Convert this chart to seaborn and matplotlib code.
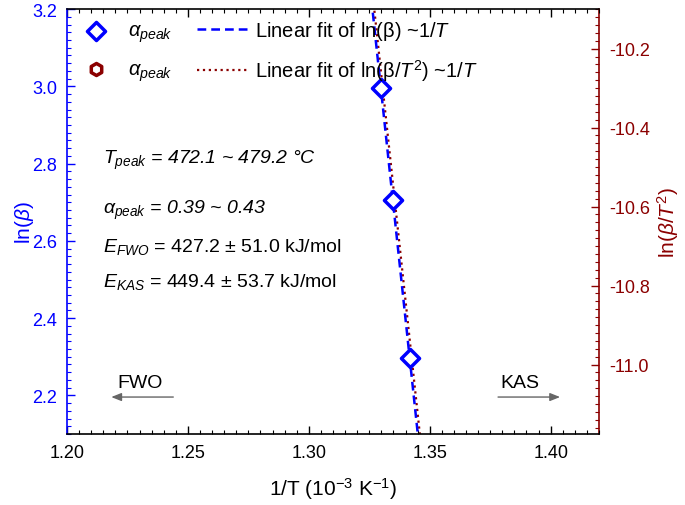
import numpy as np
import pandas as pd
import seaborn as sns
import matplotlib.pyplot as plt

# data
inv_T = [1.3298, 1.3347, 1.3417]          # 1/T (10^-3 K^-1)
ln_beta = [2.996, 2.705, 2.298]           # FWO, left axis
ln_beta_T2 = [-10.300, -10.587, -10.980]  # KAS, right axis
x_ticks = [1.20, 1.25, 1.30, 1.35, 1.40]
left_ticks = [2.2, 2.4, 2.6, 2.8, 3.0, 3.2]
right_ticks = [-11.0, -10.8, -10.6, -10.4, -10.2]

BLUE = '#0000FF'
RED = '#8B0000'

sns.set_theme(style='ticks')
plt.rcParams['font.family'] = ['Liberation Sans', 'DejaVu Sans']
plt.rcParams['mathtext.fontset'] = 'custom'
plt.rcParams['mathtext.rm'] = 'Liberation Sans'
plt.rcParams['mathtext.it'] = 'Liberation Sans:italic'
plt.rcParams['mathtext.bf'] = 'Liberation Sans:bold'
plt.rcParams['text.color'] = 'black'
plt.rcParams['axes.labelcolor'] = 'black'
plt.rcParams['xtick.color'] = 'black'
plt.rcParams['ytick.color'] = 'black'

df = pd.DataFrame({'x': inv_T, 'fwo': ln_beta, 'kas': ln_beta_T2})

# linear fits
xf = np.linspace(1.30, 1.38, 50)
p1 = np.polyfit(df['x'], df['fwo'], 1)
p2 = np.polyfit(df['x'], df['kas'], 1)
fits = pd.DataFrame({'x': xf, 'fwo': np.polyval(p1, xf), 'kas': np.polyval(p2, xf)})

fig = plt.figure(figsize=(6.85, 5.06), dpi=100)
ax = fig.add_axes([0.0978, 0.1403, 0.7767, 0.8397])
ax2 = ax.twinx()

# KAS (right axis) below
h_hex = ax2.scatter(df['x'], df['kas'], marker='h', s=45, facecolor='white',
                    edgecolor=RED, linewidth=2.5, zorder=2, label=r'$\alpha_{peak}$')
l_kas, = ax2.plot(fits['x'] + 0.0008, fits['kas'], color=RED, linestyle=':', linewidth=1.6,
                  zorder=1, label=r'Linear fit of ln(β/$T^2$) ~$\mathit{1/T}$')

# FWO (left axis) on top
ax.set_zorder(ax2.get_zorder() + 1)
ax.patch.set_visible(False)
sns.lineplot(data=fits, x='x', y='fwo', ax=ax, color=BLUE, linewidth=1.8,
             linestyle=(0, (3.5, 2)), zorder=2)
l_fwo = ax.lines[-1]
l_fwo.set_label(r'Linear fit of ln(β) ~$\mathit{1/T}$')
sns.scatterplot(data=df, x='x', y='fwo', ax=ax, marker='D', s=85, facecolor='white',
                edgecolor=BLUE, linewidth=2.5, zorder=3)
h_dia = ax.collections[-1]
h_dia.set_label(r'$\alpha_{peak}$')

ax.set_xlim(1.20, 1.42)
ax.set_ylim(2.1, 3.2)
ax2.set_ylim(-11.176, -10.107)
ax.set_xticks(x_ticks)
ax.set_xticklabels([f'{v:.2f}' for v in x_ticks])
ax.set_yticks(left_ticks)
ax.set_yticklabels([f'{v:.1f}' for v in left_ticks])
ax2.set_yticks(right_ticks)
ax2.set_yticklabels([f'{v:.1f}' for v in right_ticks])
ax.set_xticks(np.arange(1.20, 1.4201, 0.005), minor=True)
ax.set_yticks(np.arange(2.1, 3.2001, 0.02), minor=True)
ax2.set_yticks(np.arange(-11.16, -10.10, 0.02), minor=True)

ax.tick_params(axis='both', which='both', direction='in', top=True, labelsize=13)
ax.tick_params(axis='both', which='major', length=6, width=1, pad=7)
ax.tick_params(axis='both', which='minor', length=3, width=0.8)
ax.tick_params(axis='y', which='both', colors=BLUE)
ax.tick_params(axis='x', which='both', colors='black')
ax2.tick_params(axis='y', which='both', direction='in', colors=RED, labelsize=13)
ax2.tick_params(axis='y', which='major', length=6, width=1, pad=7)
ax2.tick_params(axis='y', which='minor', length=3, width=0.8)

for sp in ax.spines.values():
    sp.set_linewidth(1.2)
    sp.set_color('black')
ax.spines['left'].set_color(BLUE)
ax.spines['right'].set_visible(False)
for name, sp in ax2.spines.items():
    sp.set_linewidth(1.2)
    sp.set_visible(name == 'right')
ax2.spines['right'].set_color(RED)

ax.set_xlabel(r'1/T (10$^{-3}$ K$^{-1}$)', fontsize=15, labelpad=10)
ax.set_ylabel(r'ln($\beta$)', fontsize=15, color=BLUE)
ax.yaxis.set_label_coords(-0.058, 0.5)
ax2.set_ylabel(r'ln($\beta$/$T^2$)', fontsize=15, color=RED, labelpad=4)

leg = ax.legend(handles=[h_dia, h_hex, l_fwo, l_kas], ncol=2, loc='upper left',
                frameon=False, fontsize=14.5, labelspacing=0.75, columnspacing=1.2,
                handlelength=2.6, handletextpad=0.3, borderaxespad=0.25,
                bbox_to_anchor=(-0.02, 1.008))
leg.legend_handles[1].set_sizes([75])

tk = dict(transform=ax.transAxes, fontsize=14, va='baseline', ha='left')
ax.text(0.068, 0.638, r'$T_{peak}$ = 472.1 ~ 479.2 °C', style='italic', **tk)
ax.text(0.068, 0.520, r'$\alpha_{peak}$ = 0.39 ~ 0.43', style='italic', **tk)
ax.text(0.068, 0.431, r'$E_{FWO}$ = 427.2 ± 51.0 kJ/mol', **tk)
ax.text(0.068, 0.348, r'$E_{KAS}$ = 449.4 ± 53.7 kJ/mol', **tk)

ax.text(0.137, 0.122, 'FWO', transform=ax.transAxes, fontsize=14, ha='center', va='center')
ax.text(0.851, 0.122, 'KAS', transform=ax.transAxes, fontsize=14, ha='center', va='center')
arr = dict(arrowstyle='-|>,head_length=0.5,head_width=0.2', color='#666666', lw=1.0)
ax.annotate('', xy=(0.078, 0.087), xytext=(0.205, 0.087), xycoords='axes fraction',
            arrowprops=arr)
ax.annotate('', xy=(0.932, 0.087), xytext=(0.805, 0.087), xycoords='axes fraction',
            arrowprops=arr)

fig.savefig('out.png', dpi=100)
